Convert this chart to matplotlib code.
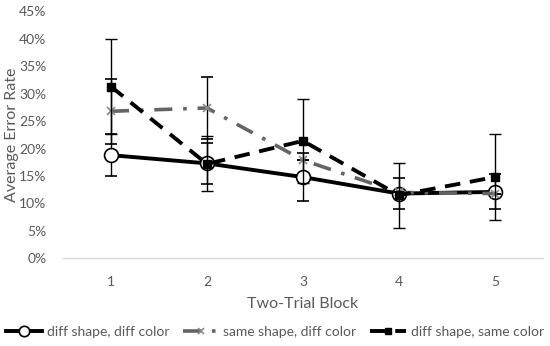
import matplotlib
matplotlib.use("Agg")
import matplotlib.pyplot as plt
from matplotlib.ticker import PercentFormatter

blocks = [1, 2, 3, 4, 5]

# average error rate (%) per two-trial block
diff_shape_diff_color = [18.8, 17.3, 14.8, 11.8, 12.1]
same_shape_diff_color = [26.8, 27.4, 17.9, 12.0, 11.8]
diff_shape_same_color = [31.3, 17.2, 21.4, 11.5, 14.8]

# error bar half-widths (%)
err_ddc = [3.8, 3.7, 4.4, 2.9, 3.2]
err_sdc = [5.9, 5.7, 0.0, 0.0, 0.0]
err_dsc = [8.7, 5.0, 7.6, 5.9, 7.9]

labels = ["diff shape, diff color", "same shape, diff color", "diff shape, same color"]

plt.rcParams["font.family"] = ["Lato", "DejaVu Sans"]
txt = "#595959"

fig = plt.figure(figsize=(5.5, 3.46), dpi=100)
ax = fig.add_axes([0.1145, 0.2535, 0.8725, 0.7135])

c1 = ax.errorbar(blocks, diff_shape_diff_color, yerr=err_ddc, color="black", lw=2.8,
                 marker="o", ms=10, mfc="white", mec="black", mew=1.2,
                 ecolor="black", elinewidth=1, capsize=4, capthick=1, zorder=3)
c2 = ax.errorbar(blocks, same_shape_diff_color, yerr=err_sdc, color="#646464", lw=2.6,
                 linestyle=(0, (5, 3, 1, 3)), marker="x", ms=6, mew=1.2, mec="#8a8a8a",
                 ecolor="black", elinewidth=1, capsize=4, capthick=1, zorder=4)
c3 = ax.errorbar(blocks, diff_shape_same_color, yerr=err_dsc, color="black", lw=2.8,
                 linestyle=(0, (4, 2.5)), marker="s", ms=6,
                 ecolor="black", elinewidth=1, capsize=4, capthick=1, zorder=5)

ax.set_xlim(0.5, 5.5)
ax.set_ylim(0, 45)
ax.set_yticks(range(0, 46, 5))
ax.set_xticks(blocks)
ax.yaxis.set_major_formatter(PercentFormatter(decimals=0))
ax.tick_params(length=0, labelsize=10, colors=txt)
ax.tick_params(axis="x", pad=13)
ax.tick_params(axis="y", pad=12)
for s in ["top", "right", "left"]:
    ax.spines[s].set_visible(False)
ax.spines["bottom"].set_color("#d9d9d9")
ax.spines["bottom"].set_linewidth(1)

ax.set_xlabel("Two-Trial Block", fontsize=11.5, color=txt, labelpad=6)
fig.text(0.022, 0.61, "Average Error Rate", rotation=90, fontsize=11.5, color=txt,
         ha="center", va="center")

fig.legend([c1[0], c2[0], c3[0]], labels, loc="center",
           bbox_to_anchor=(0.5, 0.04), ncol=3, frameon=False,
           fontsize=10, labelcolor=txt, handlelength=2.6, handletextpad=0.3,
           columnspacing=1.0, borderaxespad=0, borderpad=0, markerscale=0.75)

fig.savefig("out.png", dpi=100)
